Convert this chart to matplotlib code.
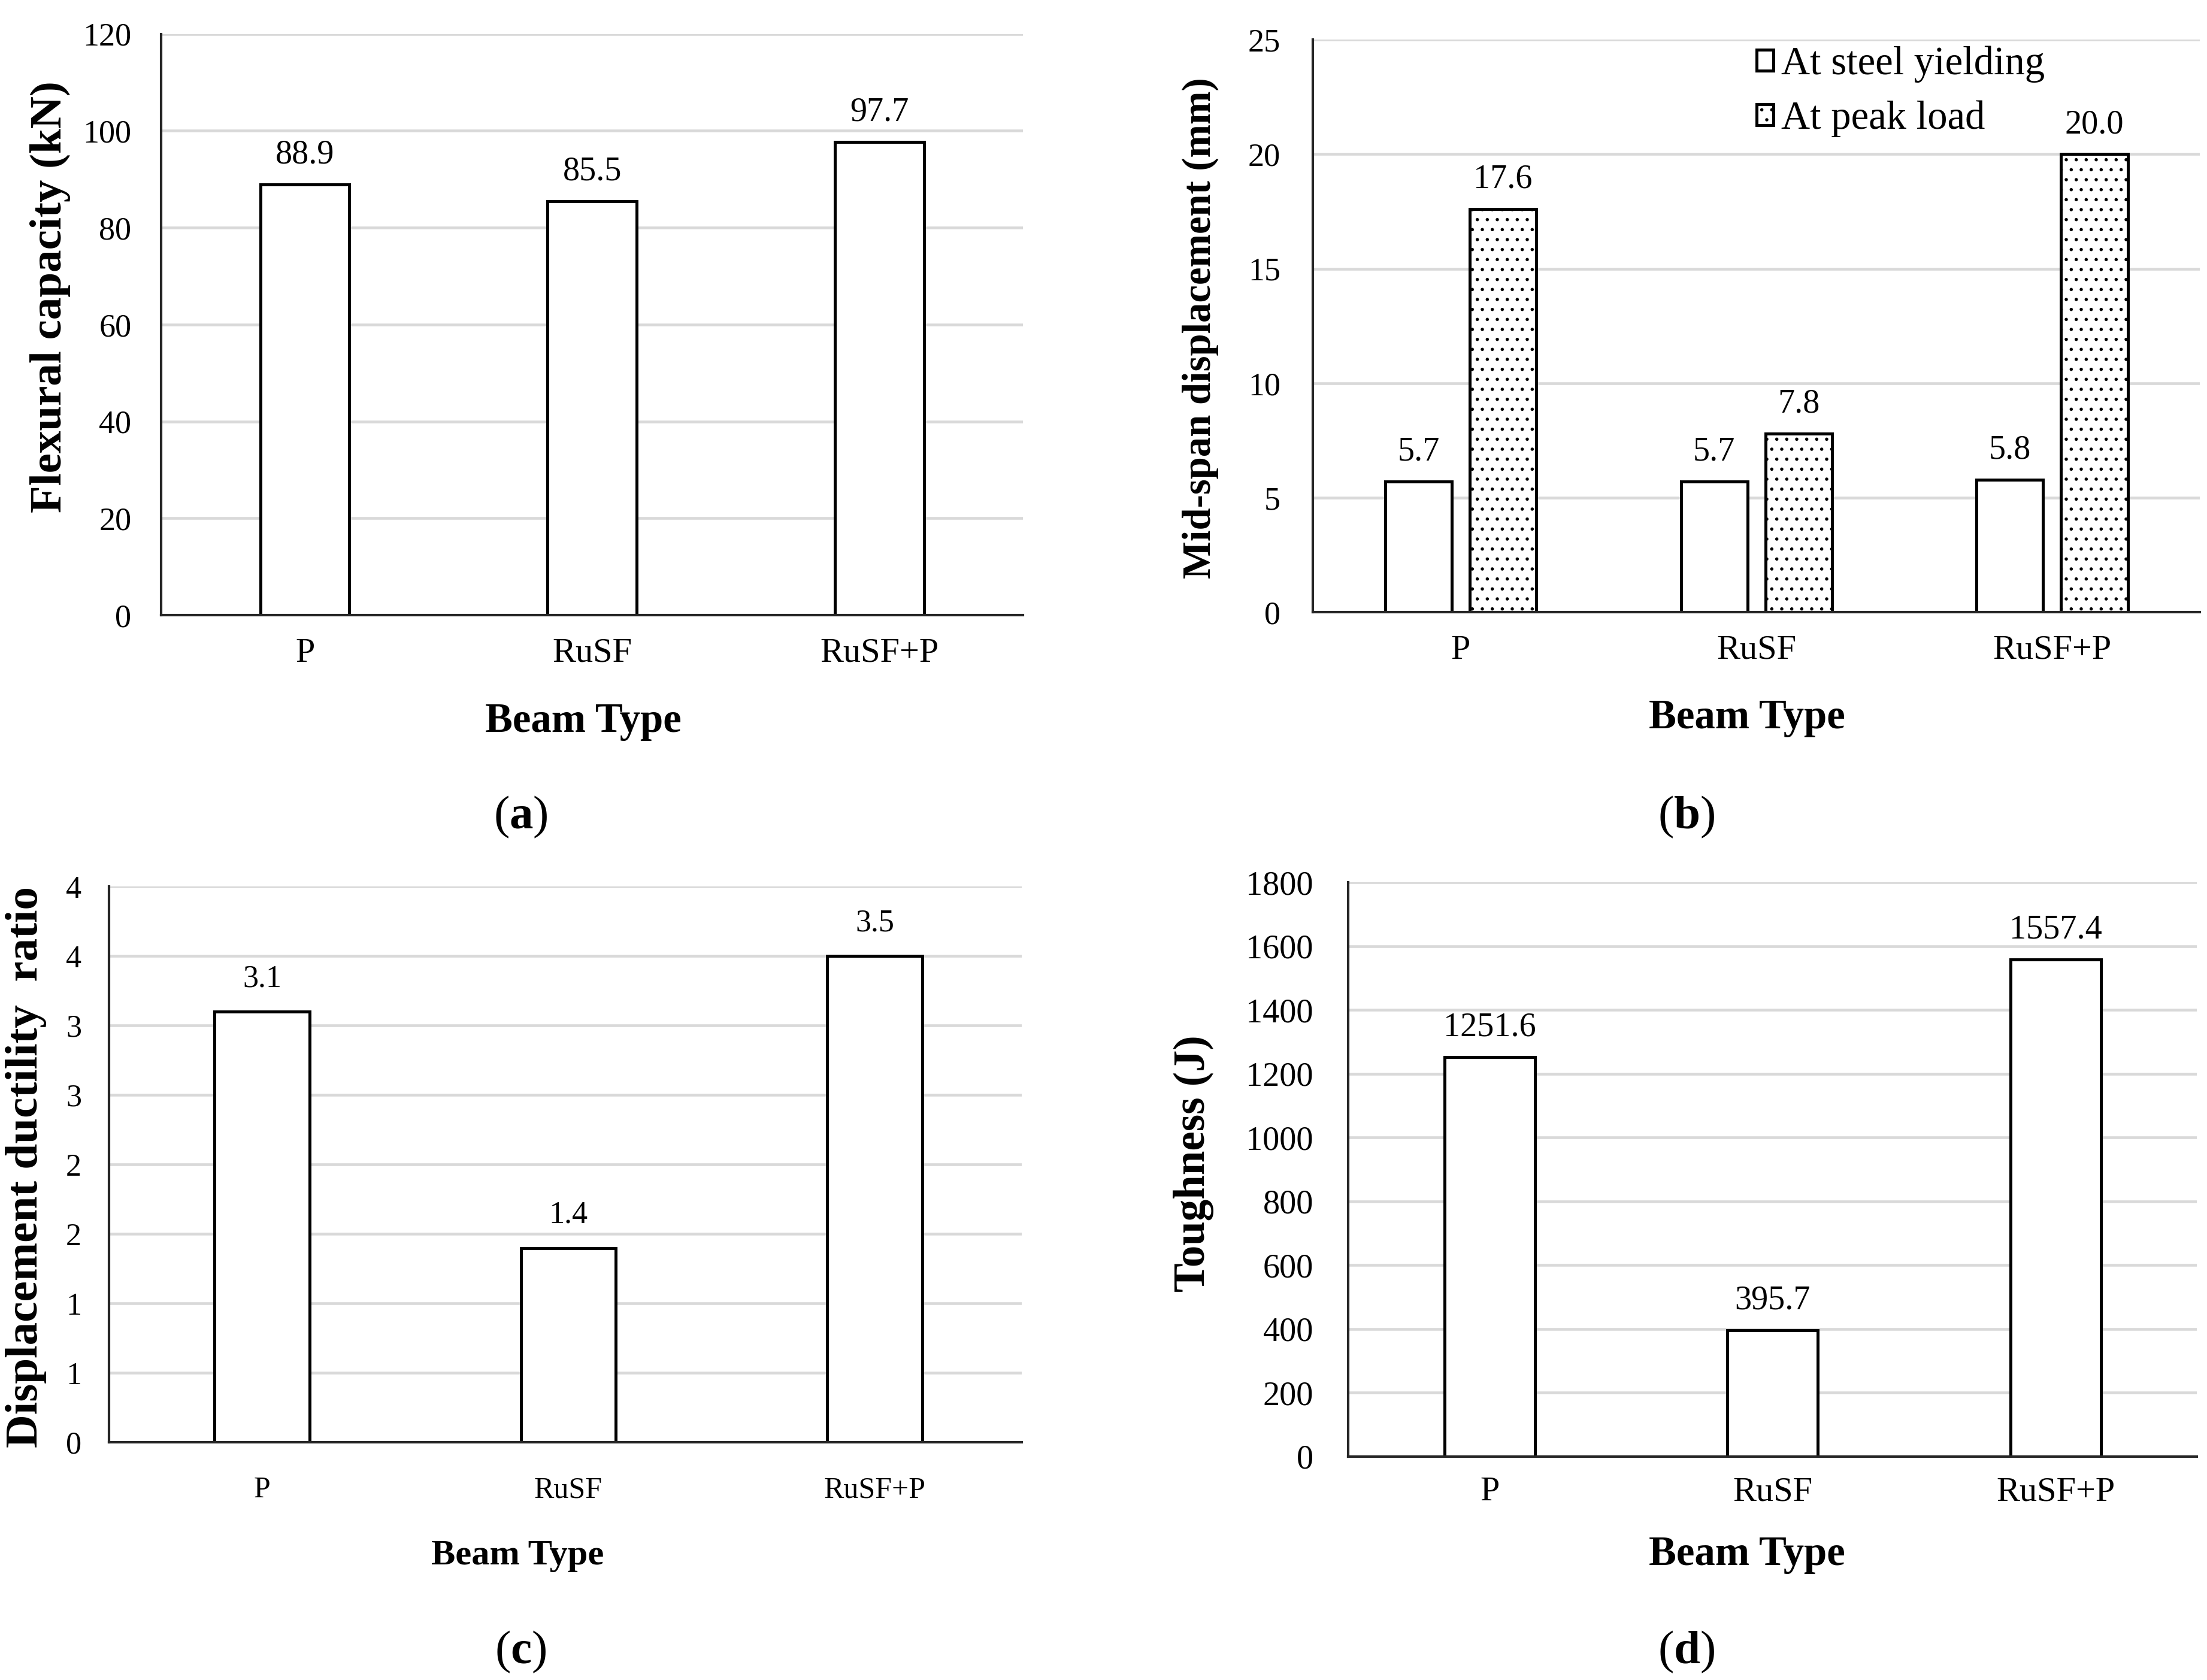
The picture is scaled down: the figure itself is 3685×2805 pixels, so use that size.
import numpy as np
import matplotlib
matplotlib.use("Agg")
import matplotlib.pyplot as plt
from matplotlib.ticker import FuncFormatter

plt.rcParams['font.family'] = 'Liberation Serif'
plt.rcParams['mathtext.fontset'] = 'custom'
plt.rcParams['mathtext.rm'] = 'Liberation Serif'
plt.rcParams['mathtext.bf'] = 'Liberation Serif:bold'
plt.rcParams['hatch.linewidth'] = 0.5

# Data
beams = ['P', 'RuSF', 'RuSF+P']
flexural = [88.9, 85.5, 97.7]
disp_yield = [5.7, 5.7, 5.8]
disp_peak = [17.6, 7.8, 20.0]
ductility = [3.1, 1.4, 3.5]
toughness = [1251.6, 395.7, 1557.4]

GRID = '#d9d9d9'
SPINE = '#262626'


def style_axes(ax, ymax, ystep, xlim, xsize, ysize, xpad, ypad):
    ax.set_ylim(0, ymax)
    ax.set_yticks(np.arange(0, ymax + ystep / 2, ystep))
    ax.set_xlim(*xlim)
    ax.set_xticks(range(len(beams)))
    ax.set_xticklabels(beams)
    ax.yaxis.grid(True, color=GRID, lw=1.1)
    ax.set_axisbelow(True)
    for s in ['top', 'right']:
        ax.spines[s].set_visible(False)
    for s in ['left', 'bottom']:
        ax.spines[s].set_color(SPINE)
        ax.spines[s].set_linewidth(1.0)
    ax.tick_params(axis='x', length=0, labelsize=xsize, pad=xpad)
    ax.tick_params(axis='y', length=0, labelsize=ysize, pad=ypad)


def label_bars(ax, bars, values, size, off=8.5):
    for b, v in zip(bars, values):
        ax.annotate('{:.1f}'.format(v), (b.get_x() + b.get_width() / 2, b.get_height()),
                    xytext=(0, off), textcoords='offset points',
                    ha='center', va='baseline', fontsize=size)


fig = plt.figure(figsize=(3685 / 300, 2805 / 300), dpi=300)
x = np.arange(len(beams))

# (a) flexural capacity
ax1 = fig.add_axes([0.0731, 0.6338, 0.3904, 0.346])
b1 = ax1.bar(x, flexural, width=0.31, color='white', edgecolor='black', lw=1.2)
style_axes(ax1, 120, 20, (-0.5, 2.5), 14, 13, 9, 12)
label_bars(ax1, b1, flexural, 13.5)
ax1.set_ylabel('Flexural capacity (kN)', fontsize=18, fontweight='bold')
ax1.yaxis.set_label_coords(-0.105, 0.548)
ax1.set_xlabel('Beam Type', fontsize=16.5, fontweight='bold')
ax1.xaxis.set_label_coords(0.49, -0.15)

# (b) mid-span displacement
ax2 = fig.add_axes([0.5949, 0.6355, 0.4019, 0.3409])
b2a = ax2.bar(x - 0.143, disp_yield, width=0.225, color='white', edgecolor='black', lw=1.2,
              label='At steel yielding')
b2b = ax2.bar(x + 0.143, disp_peak, width=0.225, color='white', edgecolor='black', lw=1.2,
              hatch='...', label='At peak load')
style_axes(ax2, 25, 5, (-0.5, 2.5), 14, 13, 9, 13)
label_bars(ax2, b2a, disp_yield, 13.5)
label_bars(ax2, b2b, disp_peak, 13.5)
ax2.set_ylabel('Mid-span displacement (mm)', fontsize=16, fontweight='bold')
ax2.yaxis.set_label_coords(-0.106, 0.496)
ax2.set_xlabel('Beam Type', fontsize=16.5, fontweight='bold')
ax2.xaxis.set_label_coords(0.489, -0.151)
ax2.legend(loc='upper left', bbox_to_anchor=(0.5, 0.989), frameon=False, fontsize=16,
           handlelength=0.42, handleheight=0.42, handletextpad=0.2, labelspacing=0.44,
           borderpad=0, borderaxespad=0)

# (c) displacement ductility ratio
ax3 = fig.add_axes([0.0494, 0.1414, 0.4135, 0.3308])
b3 = ax3.bar(x, ductility, width=0.31, color='white', edgecolor='black', lw=1.2)
style_axes(ax3, 4, 0.5, (-0.5, 2.48), 12, 12.5, 13.5, 11)
ax3.yaxis.set_major_formatter(FuncFormatter(lambda v, p: str(int(np.floor(v + 0.5)))))
label_bars(ax3, b3, ductility, 12.5, off=10)
ax3.set_ylabel('Displacement ductility  ratio', fontsize=18.5, fontweight='bold')
ax3.yaxis.set_label_coords(-0.068, 0.496)
ax3.set_xlabel('Beam Type', fontsize=14.5, fontweight='bold')
ax3.xaxis.set_label_coords(0.448, -0.175)

# (d) toughness
ax4 = fig.add_axes([0.6109, 0.133, 0.3846, 0.3418])
b4 = ax4.bar(x, toughness, width=0.32, color='white', edgecolor='black', lw=1.2)
style_axes(ax4, 1800, 200, (-0.5, 2.5), 14, 13.5, 8, 14)
label_bars(ax4, b4, toughness, 13.5)
ax4.set_ylabel('Toughness (J)', fontsize=17.5, fontweight='bold')
ax4.yaxis.set_label_coords(-0.158, 0.51)
ax4.set_xlabel('Beam Type', fontsize=16.5, fontweight='bold')
ax4.xaxis.set_label_coords(0.47, -0.138)

# panel letters
for px, py, letter in [(0.2359, 0.5135, 'a'), (0.764, 0.5135, 'b'),
                       (0.2359, 0.0168, 'c'), (0.764, 0.0168, 'd')]:
    fig.text(px, py, r'($\mathbf{%s}$)' % letter, ha='center', va='center', fontsize=19)

fig.savefig('out.png', dpi=300, facecolor='white')
